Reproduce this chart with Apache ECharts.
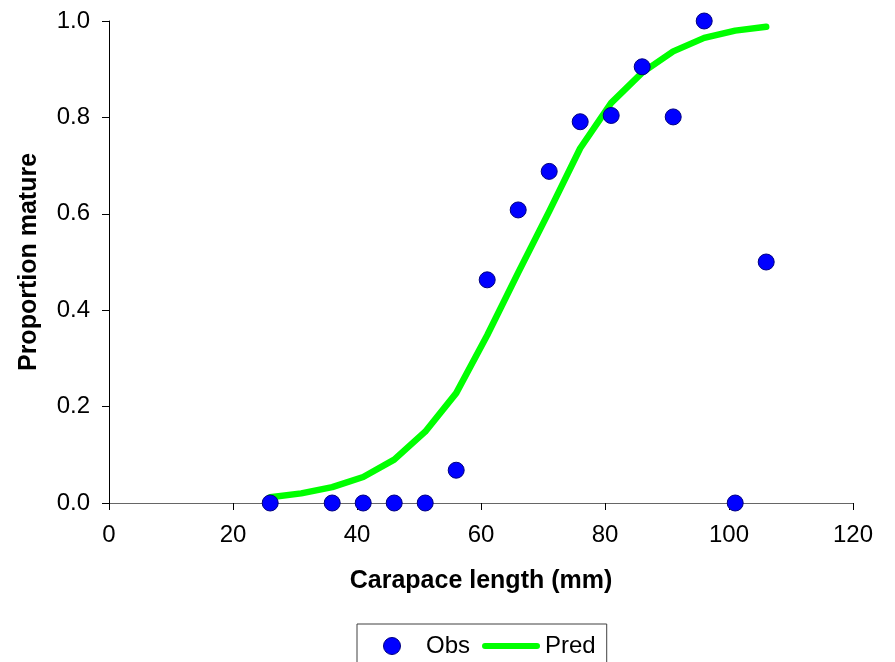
<!DOCTYPE html>
<html>
<head>
<meta charset="utf-8">
<script src="https://cdn.jsdelivr.net/npm/echarts@6/dist/echarts.min.js"></script>
<style>html,body{margin:0;padding:0;background:#fff;}#c{width:895px;height:662px;}</style>
</head>
<body>
<div id="c"></div>
<script>
var lengths = [26, 31, 36, 41, 46, 51, 56, 61, 66, 71, 76, 81, 86, 91, 96, 101, 106];
var obsLengths = [26, 36, 41, 46, 51, 56, 61, 66, 71, 76, 81, 86, 91, 96, 101, 106];
var obsValues = [0, 0, 0, 0, 0, 0.068, 0.463, 0.608, 0.688, 0.791, 0.804, 0.905, 0.801, 1.0, 0, 0.5];
var predValues = [0.012, 0.02, 0.033, 0.054, 0.09, 0.148, 0.228, 0.348, 0.478, 0.605, 0.736, 0.83, 0.893, 0.937, 0.965, 0.98, 0.988];

var obsData = obsLengths.map(function (x, i) { return [x, obsValues[i]]; });
var predData = lengths.map(function (x, i) { return [x, predValues[i]]; });

var FONT = 'Liberation Sans, Arial, sans-serif';
var chart = echarts.init(document.getElementById('c'));
chart.setOption({
  animation: false,
  backgroundColor: '#fff',
  textStyle: { fontFamily: FONT },
  grid: { left: 109, right: 42, top: 21, bottom: 159, containLabel: false },
  legend: {
    left: 357, top: 624,
    padding: [10, 11, 30, 26],
    borderColor: '#404040', borderWidth: 1,
    itemWidth: 58, itemHeight: 17, itemGap: 12,
    symbolKeepAspect: true,
    textStyle: { fontSize: 24, color: '#000', fontFamily: FONT },
    data: [
      { name: 'Obs', icon: 'circle', itemStyle: { color: '#0000FF', borderColor: '#000080', borderWidth: 1 } },
      { name: 'Pred', icon: 'path://M3,0 L55,0 A3,3 0 0 1 55,6 L3,6 A3,3 0 0 1 3,0 Z', itemStyle: { color: '#00FF00', borderWidth: 0 } }
    ]
  },
  xAxis: {
    type: 'value', min: 0, max: 120, interval: 20,
    name: 'Carapace length (mm)', nameLocation: 'middle', nameGap: 66,
    nameTextStyle: { fontSize: 25, fontWeight: 'bold', color: '#000', fontFamily: FONT },
    axisLine: { show: true, onZero: false, lineStyle: { color: '#666', width: 1 } },
    axisTick: { show: true, inside: false, length: 7, lineStyle: { color: '#000' } },
    axisLabel: { fontSize: 24, color: '#000', margin: 20, fontFamily: FONT },
    splitLine: { show: false }
  },
  yAxis: {
    type: 'value', min: 0, max: 1, interval: 0.2,
    name: 'Proportion mature', nameLocation: 'middle', nameGap: 67, nameRotate: 90,
    nameTextStyle: { fontSize: 25, fontWeight: 'bold', color: '#000', fontFamily: FONT },
    axisLine: { show: true, lineStyle: { color: '#000', width: 1 } },
    axisTick: { show: true, inside: false, length: 7, lineStyle: { color: '#000' } },
    axisLabel: { fontSize: 24, color: '#000', margin: 19, fontFamily: FONT, formatter: function (v) { return v.toFixed(1); } },
    splitLine: { show: false }
  },
  series: [
    {
      name: 'Pred', type: 'line', data: predData,
      showSymbol: false, symbol: 'none', smooth: false,
      lineStyle: { color: '#00FF00', width: 6.5, cap: 'round', join: 'round' },
      itemStyle: { color: '#00FF00' },
      z: 2
    },
    {
      name: 'Obs', type: 'scatter', data: obsData,
      symbol: 'circle', symbolSize: 16,
      itemStyle: { color: '#0000FF', borderColor: '#000080', borderWidth: 1, opacity: 1 },
      z: 3
    }
  ]
});
</script>
</body>
</html>
